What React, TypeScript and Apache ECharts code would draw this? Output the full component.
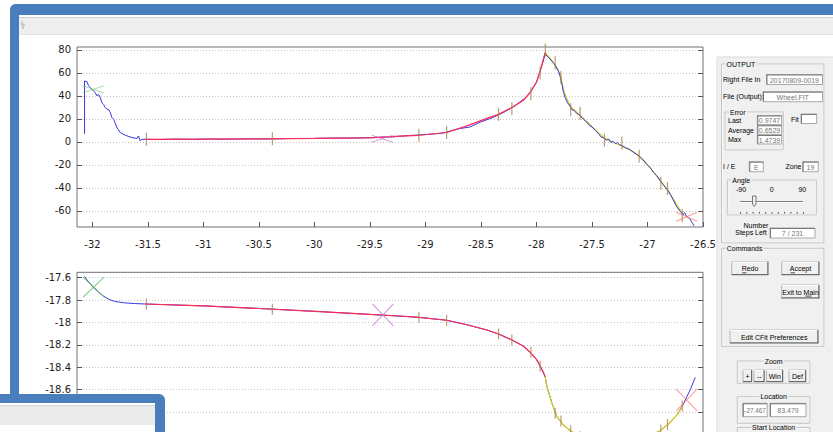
import React, { useEffect, useRef } from "react";
import * as echarts from "echarts";

// ---------- axis ticks ----------
const X_TICKS = [-32, -31.5, -31, -30.5, -30, -29.5, -29, -28.5, -28, -27.5, -27, -26.5];
const TOP_Y_TICKS = [-60, -40, -20, 0, 20, 40, 60, 80];
const BOT_Y_TICKS = [-19.2, -19, -18.8, -18.6, -18.4, -18.2, -18, -17.8, -17.6];
const BOT_Y_LABELS = [-18.6, -18.4, -18.2, -18, -17.8, -17.6];

// ---------- top chart ----------
const TOP_MEASURED = [
  [-32.072, 7], [-32.072, 53], [-32.05, 52.5], [-32.036, 48.7], [-32.005, 45.8], [-31.976, 43],
  [-31.96, 40], [-31.946, 41.5], [-31.931, 38.6], [-31.915, 34], [-31.9, 32.5], [-31.886, 30],
  [-31.87, 28.4], [-31.856, 28.4], [-31.84, 25.5], [-31.825, 21.2], [-31.81, 19.7], [-31.78, 12.5],
  [-31.75, 8.2], [-31.705, 5.8], [-31.645, 3.8], [-31.6, 3], [-31.586, 5.2], [-31.57, 0.9],
  [-31.555, 2.3], [-31.525, 2.3], [-31.4, 2.1], [-31.25, 2.5], [-31.1, 2.2], [-30.95, 2.6],
  [-30.8, 2.4], [-30.6, 2.7], [-30.4, 2.6], [-30.2, 3.0], [-30.0, 3.1], [-29.8, 3.4], [-29.6, 3.5],
  [-29.45, 4.0], [-29.3, 4.4], [-29.15, 5.6], [-29.0, 6.4], [-28.85, 7.6], [-28.7, 11.5],
  [-28.6, 13.0], [-28.5, 17.5], [-28.4, 21.0], [-28.3, 25.5], [-28.2, 31.0], [-28.1, 38.5],
  [-28.05, 44], [-28.0, 52], [-27.97, 61], [-27.94, 70], [-27.922, 77], [-27.9, 74], [-27.88, 72.5],
  [-27.861, 70], [-27.84, 68], [-27.82, 65], [-27.8, 61], [-27.787, 57], [-27.77, 50], [-27.757, 43],
  [-27.74, 38], [-27.72, 34], [-27.697, 31], [-27.68, 28], [-27.66, 27.5], [-27.64, 25], [-27.607, 23],
  [-27.58, 20], [-27.55, 17.5], [-27.52, 14], [-27.5, 13], [-27.47, 10], [-27.44, 7], [-27.42, 4.5],
  [-27.396, 3.5], [-27.37, 1.5], [-27.35, 2.5], [-27.33, -0.5], [-27.31, 0.5], [-27.29, -1.5],
  [-27.27, -0.5], [-27.25, -2.5], [-27.231, -3], [-27.2, -5], [-27.17, -6], [-27.14, -8],
  [-27.12, -9.5], [-27.1, -10.5], [-27.07, -12.5], [-27.04, -15.5], [-27.021, -18], [-27.0, -20],
  [-26.97, -23], [-26.946, -26.5], [-26.92, -29], [-26.9, -31.5], [-26.886, -34], [-26.86, -37],
  [-26.84, -39.5], [-26.811, -43], [-26.79, -46.5], [-26.77, -50], [-26.75, -54], [-26.735, -56.5],
  [-26.71, -60], [-26.69, -62], [-26.681, -63.5], [-26.665, -61.5], [-26.65, -64.5], [-26.63, -66],
  [-26.615, -67.5], [-26.6, -70], [-26.58, -73],
];
const TOP_FIT_RISE = [
  [-31.525, 2.2], [-31.0, 2.4], [-30.5, 2.7], [-30.0, 3.1], [-29.5, 3.6], [-29.228, 5.0],
  [-29.06, 5.8], [-28.81, 8.2], [-28.627, 14], [-28.447, 20.5], [-28.342, 24], [-28.222, 30],
  [-28.12, 36], [-28.057, 43], [-28.0, 52], [-27.967, 61.7], [-27.922, 77.7],
];
const TOP_FIT_FALL = [
  [-27.922, 77.7], [-27.861, 71], [-27.787, 59], [-27.757, 45], [-27.697, 31], [-27.607, 23],
  [-27.501, 13.5], [-27.396, 4], [-27.306, -0.5], [-27.231, -3.8], [-27.126, -8.5], [-27.021, -17.5],
  [-26.946, -26], [-26.886, -33.5], [-26.811, -42.5], [-26.735, -55], [-26.681, -63],
];
const TOP_TICK_X = [-31.515, -30.38, -29.06, -28.81, -28.342, -28.222, -28.05, -27.967, -27.92, -27.832,
  -27.78, -27.692, -27.607, -27.388, -27.231, -27.075, -26.88, -26.82, -26.687];
const TOP_TICK_Y = [2.3, 2.8, 5.8, 8.2, 24, 29, 42, 60, 80, 69, 56, 28, 25, 1.5, -1, -12.5, -36, -40.5, -64];
const TOP_MARKS = [[-31.994, 45.7], [-29.39, 2.8], [-26.647, -65]];

// ---------- bottom chart ----------
const BOT_MEASURED = [
  [-32.072, -17.59], [-32.05, -17.62], [-32.02, -17.655], [-31.99, -17.69], [-31.95, -17.725],
  [-31.9, -17.765], [-31.85, -17.795], [-31.8, -17.812], [-31.72, -17.824], [-31.62, -17.831],
  [-31.525, -17.835], [-31.0, -17.852], [-30.5, -17.875], [-30.0, -17.9], [-29.5, -17.928],
  [-29.06, -17.954], [-28.81, -17.98], [-28.627, -18.02], [-28.447, -18.067], [-28.342, -18.103],
  [-28.222, -18.156], [-28.12, -18.21], [-28.057, -18.266], [-28.0, -18.33], [-27.967, -18.39],
  [-27.922, -18.484], [-27.906, -18.573], [-27.861, -18.72], [-27.816, -18.84], [-27.757, -18.915],
  [-27.697, -18.966], [-27.6, -19.02], [-27.45, -19.06], [-27.3, -19.075], [-27.15, -19.06],
  [-27.0, -19.02], [-26.886, -18.966], [-26.811, -18.906], [-26.735, -18.826], [-26.681, -18.737],
  [-26.615, -18.6], [-26.57, -18.49],
];
const BOT_FIT_RISE = [
  [-31.525, -17.835], [-31.0, -17.852], [-30.5, -17.875], [-30.0, -17.9], [-29.5, -17.928],
  [-29.228, -17.942], [-29.06, -17.954], [-28.81, -17.98], [-28.627, -18.02], [-28.447, -18.067],
  [-28.342, -18.103], [-28.222, -18.156], [-28.12, -18.21], [-28.057, -18.266], [-28.0, -18.33],
  [-27.967, -18.39], [-27.94, -18.44], [-27.922, -18.484],
];
const BOT_FIT_FALL = [
  [-27.922, -18.484], [-27.906, -18.573], [-27.861, -18.72], [-27.816, -18.84], [-27.757, -18.915],
  [-27.697, -18.966], [-27.6, -19.02], [-27.45, -19.06], [-27.3, -19.075], [-27.15, -19.06],
  [-27.0, -19.02], [-26.886, -18.966], [-26.811, -18.906], [-26.735, -18.826], [-26.681, -18.737],
];
const BOT_TICK_X = [-31.515, -30.38, -29.06, -28.81, -28.342, -28.222, -28.05, -27.967, -27.832,
  -27.78, -27.692, -27.607, -27.388, -27.231, -27.075, -26.88, -26.82, -26.687];
const BOT_TICK_Y = [-17.835, -17.882, -17.954, -17.98, -18.103, -18.156, -18.266, -18.39, -18.81,
  -18.88, -18.966, -19.02, -19.07, -19.07, -19.04, -18.96, -18.91, -18.745];
const BOT_MARKS = [[-31.99, -17.685], [-29.384, -17.933], [-26.647, -18.692]];

// ---------- panel texts ----------
const RIGHT_FILE = "20170809-0019";
const OUTPUT_FILE = "Wheel.FIT";
const ERR_LAST = "0.9747";
const ERR_AVG = "0.6529";
const ERR_MAX = "1.4739";
const IE_VALUE = "E";
const ZONE_VALUE = "19";
const STEPS_LEFT = "7 / 231";
const LOC_X = "-27.467";
const LOC_Y = "83.479";

const BLUE = "#3838e0";
const RED = "#ff2a55";
const YELLOW = "#d2d21e";
const TICK = "#a8844e";
const MARK_COLORS = ["#5cc05c", "#c878d0", "#ff6b6b"];
const XPATH = "path://M0 0L10 10M10 0L0 10";

const GUI_FONT = "Liberation Sans";
const GUI_SIZE = 7;
const PANEL = "#f0f0f0";
const FRAME = "#4a7dbb";

function buildGraphic() {
  const G: any[] = [];
  const Z = 100;
  const rect = (x: number, y: number, w: number, h: number, fill: string, stroke?: string, r?: any) =>
    G.push({ type: "rect", z: Z, silent: true, shape: { x, y, width: w, height: h, r: r || 0 },
      style: { fill, stroke: stroke || null, lineWidth: 1 } });
  const line = (x1: number, y1: number, x2: number, y2: number, stroke: string, lw = 1) =>
    G.push({ type: "line", z: Z, silent: true, shape: { x1, y1, x2, y2 }, style: { stroke, lineWidth: lw } });
  const text = (x: number, y: number, t: string, align = "left", fill = "#000", bg?: string, size = GUI_SIZE) =>
    G.push({ type: "text", z: Z + 1, silent: true, x, y,
      style: { text: t, fill, fontSize: size, fontFamily: GUI_FONT, align, verticalAlign: "middle",
        backgroundColor: bg || null, padding: bg ? [0, 1] : 0 } });
  const box = (x: number, y: number, w: number, h: number, t: string, size = GUI_SIZE) => {
    rect(x, y, w, h, "#ffffff", "#a8a8a8");
    line(x, y + 0.5, x + w, y + 0.5, "#7a7a7a");
    line(x + 0.5, y, x + 0.5, y + h, "#7a7a7a");
    text(x + w / 2, y + h / 2 + 0.5, t, "center", "#767676", undefined, size);
  };
  const group = (x: number, y: number, w: number, h: number, label: string, center = false) => {
    rect(x + 0.5, y + 0.5, w, h, "none", "#ffffff");
    rect(x, y, w, h, "none", "#c4c4c4");
    text(center ? x + w / 2 : x + 4, y, label, center ? "center" : "left", "#000", PANEL);
  };
  const button = (x: number, y: number, w: number, h: number, label: string) => {
    rect(x, y, w, h, "#f0f0f0", "#b4b4b4");
    line(x, y + 0.5, x + w, y + 0.5, "#ffffff");
    line(x + w - 0.5, y, x + w - 0.5, y + h, "#6a6a6a");
    line(x, y + h - 0.5, x + w, y + h - 0.5, "#6a6a6a");
    text(x + w / 2, y + h / 2 + 0.5, label, "center");
  };

  // main window frame
  rect(10, 4, 840, 11, FRAME, undefined, [6, 0, 0, 0]);
  rect(10, 4, 9, 392, FRAME, undefined, [6, 0, 0, 0]);
  rect(19, 15, 814, 2, "#ffffff");
  rect(19, 17, 814, 18, "#eeeeee");
  line(19, 17.5, 833, 17.5, "#cfcfcf");
  line(19, 34.5, 833, 34.5, "#e2e2e2");
  G.push({ type: "polygon", z: Z, silent: true,
    shape: { points: [[21, 21], [26, 26], [24, 26], [24, 29], [22, 29], [22, 26], [21, 26]] },
    style: { fill: "#c8c8c8" } });

  // right control panel
  rect(717, 57, 120, 380, PANEL, "#dadada");

  group(721.5, 64, 102.5, 179, "OUTPUT");
  text(723, 79.5, "Right File In");
  box(766.5, 74.5, 56, 10, RIGHT_FILE);
  text(723, 96.7, "File (Output):");
  box(763, 91.7, 59.5, 10, OUTPUT_FILE);

  group(725, 112, 58.3, 38, "Error");
  text(728, 120, "Last");
  box(757.3, 115.5, 24.4, 9, ERR_LAST);
  text(728, 130, "Average");
  box(757.3, 125.3, 24.4, 9, ERR_AVG);
  text(728, 139.5, "Max");
  box(757.3, 135, 24.4, 9, ERR_MAX);
  text(791, 119, "Fit");
  box(801, 114, 15.7, 9.5, "");

  text(723, 166.7, "I / E");
  box(749.3, 161.7, 14, 10, IE_VALUE);
  text(785.5, 166.7, "Zone");
  box(802.7, 161.7, 15.6, 10, ZONE_VALUE);

  group(727.3, 180, 89.4, 35, "Angle");
  text(741, 189.5, "-90", "center");
  text(771.7, 189.5, "0", "center");
  text(802.3, 189.5, "90", "center");
  line(740, 201.5, 803, 201.5, "#808080");
  line(740, 202.5, 803, 202.5, "#ffffff");
  G.push({ type: "polygon", z: Z + 1, silent: true,
    shape: { points: [[752.5, 196], [756, 196], [756, 204], [754.2, 206.5], [752.5, 204]] },
    style: { fill: PANEL, stroke: "#5a5a5a", lineWidth: 0.8 } });
  for (let i = 0; i < 11; i++) rect(740 + i * 6.3, 212, 1, 1.6, "#3a3a3a");

  text(756, 225, "Number", "center");
  text(751, 232.5, "Steps Left", "center");
  box(770, 228, 45, 10, STEPS_LEFT);

  group(721.7, 248.3, 102.3, 98.4, "Commands");
  button(731.7, 261.7, 36.6, 13.3, "Redo");
  button(781.7, 261.7, 37.6, 13.3, "Accept");
  button(781.7, 285, 37.6, 13.3, "Exit to Main");
  button(730, 330, 88.3, 13.3, "Edit CFit Preferences");
  line(742.2, 272.8, 746.4, 272.8, "#000", 0.7);
  line(790.6, 272.8, 795.0, 272.8, "#000", 0.7);
  line(805.6, 296.1, 811.3, 296.1, "#000", 0.7);

  group(737.3, 361, 72.7, 22.3, "Zoom", true);
  button(743, 370, 9, 12, "+");
  button(754, 370, 10.5, 12, "--");
  button(766.5, 370, 16.5, 12, "Win");
  button(789, 370, 17, 12, "Def");

  group(737.3, 396.7, 72.7, 26.6, "Location", true);
  box(742.8, 403.3, 24.4, 13.4, LOC_X, 6.3);
  box(770, 403.3, 36, 13.4, LOC_Y);

  group(737.3, 427.5, 72.7, 20, "Start Location", true);

  // bottom-left overlapping window
  rect(0, 394, 165, 45, FRAME, undefined, [0, 6, 0, 0]);
  rect(0, 403, 155, 35, "#ffffff");
  rect(0, 405.5, 155, 19.5, "#ebebeb");
  line(0, 405.5, 155, 405.5, "#d4d4d4");

  return G;
}

const axisFont = { fontFamily: "DejaVu Sans", fontSize: 10, color: "#1e1e1e" };

function xAxisFor(gridIndex: number, min: number, max: number, labels: boolean) {
  return {
    gridIndex, type: "value", min, max,
    axisLine: { show: false, onZero: false },
    axisTick: { show: true, inside: true, length: 5, lineStyle: { color: "#555" }, customValues: X_TICKS },
    axisLabel: labels ? { ...axisFont, margin: 12, customValues: X_TICKS } : { show: false },
    splitLine: { show: false },
  };
}
function yAxisFor(gridIndex: number, min: number, max: number, ticks: number[], labels: number[], right: boolean) {
  return {
    gridIndex, type: "value", min, max, position: right ? "right" : "left",
    axisLine: { show: false, onZero: false },
    axisTick: { show: true, inside: true, length: 5, lineStyle: { color: "#555" }, customValues: ticks },
    axisLabel: right ? { show: false } : { ...axisFont, margin: 6, customValues: labels },
    splitLine: right ? { show: false } : { show: true, lineStyle: { type: [1, 2], color: "#c4c4c4", width: 1 } },
  };
}

function lineSeries(data: number[][], axis: number, color: string, width: number, z: number) {
  return { type: "line", xAxisIndex: axis, yAxisIndex: axis * 2, data, symbol: "none", z,
    lineStyle: { color, width }, silent: true };
}
function tickSeries(xs: number[], ys: number[], axis: number, h: number) {
  return { type: "scatter", xAxisIndex: axis, yAxisIndex: axis * 2, z: 6, silent: true,
    symbol: "rect", symbolSize: [1.2, h], itemStyle: { color: TICK },
    data: xs.map((x, i) => [x, ys[i]]) };
}
function markSeries(pts: number[][], axis: number, sizes: number[][]) {
  return { type: "scatter", xAxisIndex: axis, yAxisIndex: axis * 2, z: 7, silent: true,
    symbol: XPATH,
    data: pts.map((p, i) => ({ value: p, symbolSize: sizes[i],
      itemStyle: { color: "none", borderColor: MARK_COLORS[i], borderWidth: 1 } })) };
}

export default function App() {
  const ref = useRef<HTMLDivElement>(null);
  useEffect(() => {
    const chart = echarts.init(ref.current!, null, { renderer: "svg" });
    const option: any = {
      animation: false,
      backgroundColor: "#ffffff",
      grid: [
        { left: 77, top: 47, width: 626, height: 180, show: true, borderColor: "#707070", borderWidth: 1,
          outerBoundsMode: "none" },
        { left: 77, top: 272.3, width: 626, height: 195.8, show: true, borderColor: "#707070", borderWidth: 1,
          outerBoundsMode: "none" },
      ],
      xAxis: [xAxisFor(0, -32.14, -26.5, true), xAxisFor(1, -32.14, -26.5, false)],
      yAxis: [
        yAxisFor(0, -74, 82.6, TOP_Y_TICKS, TOP_Y_TICKS, false),
        yAxisFor(0, -74, 82.6, TOP_Y_TICKS, TOP_Y_TICKS, true),
        yAxisFor(1, -19.3, -17.552, BOT_Y_TICKS, BOT_Y_LABELS, false),
        yAxisFor(1, -19.3, -17.552, BOT_Y_TICKS, BOT_Y_LABELS, true),
      ],
      series: [
        lineSeries(TOP_FIT_FALL, 0, YELLOW, 1.2, 2),
        lineSeries(TOP_MEASURED, 0, BLUE, 1, 3),
        lineSeries(TOP_FIT_RISE, 0, RED, 1.2, 4),
        tickSeries(TOP_TICK_X, TOP_TICK_Y, 0, 13),
        markSeries(TOP_MARKS, 0, [[21, 7], [21, 7], [21, 9]]),
        lineSeries(BOT_MEASURED, 1, BLUE, 1, 2),
        lineSeries(BOT_FIT_RISE, 1, RED, 1.2, 4),
        lineSeries(BOT_FIT_FALL, 1, YELLOW, 1.2, 4),
        tickSeries(BOT_TICK_X, BOT_TICK_Y, 1, 11),
        markSeries(BOT_MARKS, 1, [[21, 20], [21, 22], [21, 22]]),
      ],
      graphic: buildGraphic(),
    };
    chart.setOption(option);
    return () => chart.dispose();
  }, []);
  return (
    <div style={{ position: "fixed", left: 0, top: 0, width: 833, height: 432, overflow: "hidden", background: "#fff" }}>
      <div ref={ref} style={{ width: 833, height: 520 }} />
    </div>
  );
}
